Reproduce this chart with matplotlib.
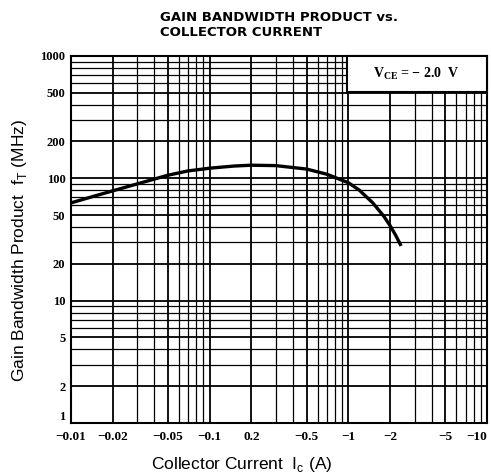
import matplotlib.pyplot as plt
from matplotlib.patches import Rectangle
from matplotlib.ticker import FixedLocator, NullFormatter, LogLocator

# curve (|Ic| in A, fT in MHz)
ic = [0.01, 0.015, 0.02, 0.03, 0.05, 0.07, 0.1, 0.15, 0.2, 0.3, 0.5, 0.7, 1.0, 1.2, 1.5, 1.8, 2.0, 2.2, 2.4]
ft = [63, 72, 79, 90, 106, 115, 121, 126, 128, 127, 119, 108, 92, 80, 63, 49, 41, 34, 28]

xticks = [0.01, 0.02, 0.05, 0.1, 0.2, 0.5, 1, 2, 5, 10]
xlabels = ["\u22120.01", "\u22120.02", "\u22120.05", "\u22120.1", "0.2", "\u22120.5", "\u22121", "\u22122", "\u22125", "\u221210"]
yticks = [1, 2, 5, 10, 20, 50, 100, 200, 500, 1000]
ylabels = ["1", "2", "5", "10", "20", "50", "100", "200", "500", "1000"]

fig = plt.figure(figsize=(4.91, 4.74), dpi=100)
ax = fig.add_axes([0.1446, 0.1076, 0.992 - 0.1446, 0.8819 - 0.1076])

ax.set_xscale("log")
ax.set_yscale("log")
ax.set_xlim(0.01, 10)
ax.set_ylim(1, 1000)

# grid
ax.xaxis.set_minor_locator(LogLocator(base=10, subs=range(2, 10)))
ax.yaxis.set_minor_locator(LogLocator(base=10, subs=range(2, 10)))
ax.xaxis.set_minor_formatter(NullFormatter())
ax.yaxis.set_minor_formatter(NullFormatter())
ax.grid(which="major", color="black", lw=1.3)
ax.grid(which="minor", color="black", lw=0.9)

ax.plot(ic, ft, color="black", lw=2.4, solid_capstyle="butt", zorder=5)

ax.xaxis.set_major_locator(FixedLocator(xticks))
ax.set_xticklabels(xlabels, family="Liberation Serif", weight="bold", fontsize=9.5)
ax.get_xticklabels()[-1].set_ha("right")
ax.yaxis.set_major_locator(FixedLocator(yticks))
ax.set_yticklabels(ylabels, family="Liberation Serif", weight="bold", fontsize=9)
ax.get_yticklabels()[0].set_va("bottom")
ax.tick_params(which="both", length=0, pad=4)
ax.tick_params(axis="x", pad=6)
for s in ax.spines.values():
    s.set_linewidth(1.5)

ax.set_xlabel("Collector Current  I$_\\mathregular{c}$ (A)", family="Liberation Sans",
              fontsize=12.5, va="center")
ax.xaxis.set_label_coords(0.41, -0.114)
ax.set_ylabel("Gain Bandwidth Product  f$_\\mathregular{T}$ (MHz)", family="Liberation Sans",
              fontsize=12.5)
ax.yaxis.set_label_coords(-0.101, 0.47)

# condition box in the top right corner
ax.add_patch(Rectangle((0.663, 0.902), 0.337, 0.098, transform=ax.transAxes,
                       fc="white", ec="black", lw=1.5, zorder=9, clip_on=False))
ax.text(0.83, 0.951, "V$_\\mathregular{CE}$ = \u2212 2.0  V", transform=ax.transAxes,
        ha="center", va="center", family="Liberation Serif", weight="bold", fontsize=10,
        zorder=10)

fig.text(0.326, 0.918, "GAIN BANDWIDTH PRODUCT vs.\nCOLLECTOR CURRENT", ha="left", va="bottom",
         family="DejaVu Sans", weight="bold", fontsize=9.5, linespacing=1.15)

fig.savefig("out.png", dpi=100)
